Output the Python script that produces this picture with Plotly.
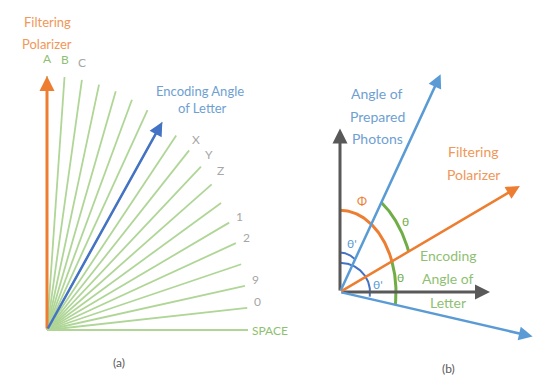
import numpy as np
import plotly.graph_objects as go

# ---------------- data ----------------
# (a) one line per encoding step, angle measured from the polarizer axis (degrees)
fan_angles = [0, 5, 10, 15, 20, 25, 30, 35, 40, 45, 50, 55, 60, 65, 70, 75, 80, 85, 90]
symbol_labels = ["A", "B", "C", "X", "Y", "Z", "1", "2", "9", "0", "SPACE"]
symbol_angles = [0, 5, 10, 40, 45, 50, 65, 70, 80, 85, 90]
letter_encoding_angle = 35

# (b) directions measured from the horizontal axis (degrees)
photon_angle = 56
polarizer_angle = 22
letter_angle = -9

# ---------------- styles ----------------
ORANGE = "#ed7d31"
ORANGE_TXT = "#f0975a"
BLUE = "#5b9bd5"
BLUE_DARK = "#4472c4"
BLUE_TXT = "#6f9fd2"
GREEN = "#b0d697"
GREEN_DARK = "#70ad47"
GREEN_TXT = "#8fbf72"
GRAY = "#595959"
LABEL_GRAY = "#a6a6a6"
FONT = "Lato"

W, H = 536, 378
SPLIT = 300  # pixel column where panel (b) begins

fig = go.Figure()
annotations = []


def polar_a(deg, r=1.0):
    t = np.radians(deg)
    return r * np.sin(t), r * np.cos(t)


def polar_b(deg, r=1.0):
    t = np.radians(deg)
    return r * np.cos(t), r * np.sin(t)


def arrow(x, y, ax, ay, color, width, xr, yr, size=1.0):
    annotations.append(dict(
        x=x, y=y, ax=ax, ay=ay, xref=xr, yref=yr, axref=xr, ayref=yr,
        text="", showarrow=True, arrowhead=2, arrowsize=size,
        arrowwidth=width, arrowcolor=color, standoff=0, startstandoff=0))


def label(x, y, text, color, xr, yr, size=13, xanchor="center",
          yanchor="middle", xshift=0, yshift=0):
    annotations.append(dict(
        x=x, y=y, xref=xr, yref=yr, text=text, showarrow=False,
        font=dict(family=FONT, size=size, color=color),
        xanchor=xanchor, yanchor=yanchor, xshift=xshift, yshift=yshift))


# ---------------- panel (a) ----------------
for ang in fan_angles:
    ex, ey = polar_a(ang)
    fig.add_trace(go.Scatter(x=[0, ex], y=[0, ey], mode="lines",
                             line=dict(color=GREEN, width=1.8),
                             hoverinfo="skip", xaxis="x", yaxis="y"))

# filtering polarizer (vertical) and encoding angle of the letter
tx, ty = polar_a(0)
arrow(tx, ty, 0, 0, ORANGE, 3, "x", "y", size=1.0)
bx, by = polar_a(letter_encoding_angle)
arrow(bx, by, 0, 0, BLUE_DARK, 2.5, "x", "y", size=1.1)

for sym, ang in zip(symbol_labels, symbol_angles):
    ex, ey = polar_a(ang)
    col = GREEN_TXT if sym in ("A", "B", "SPACE") else LABEL_GRAY
    if ang <= 10:
        label(ex, ey, sym, col, "x", "y", size=12, yanchor="bottom", yshift=8)
    elif ang < 60:
        label(ex, ey, sym, col, "x", "y", size=12, xanchor="left",
              xshift=14, yshift=-4)
    elif ang < 90:
        label(ex, ey, sym, col, "x", "y", size=12, xanchor="left",
              xshift=5, yshift=6)
    else:
        label(ex, ey, sym, col, "x", "y", size=12, xanchor="left", xshift=2)

label(0, polar_a(0)[1], "Filtering", ORANGE_TXT, "x", "y", size=13,
      xanchor="center", yshift=54)
label(0, polar_a(0)[1], "Polarizer", ORANGE_TXT, "x", "y", size=13,
      xanchor="center", yshift=32)
label(bx, by, "Encoding Angle", BLUE_TXT, "x", "y", size=13,
      xanchor="center", xshift=38, yshift=31)
label(bx, by, "of Letter", BLUE_TXT, "x", "y", size=13,
      xanchor="center", xshift=40, yshift=14)
label(0.36, 0, "(a)", GRAY, "x", "y", size=12, yshift=-32)

# ---------------- panel (b) ----------------
# reference axes
arrow(1.5, 0, 0, 0, GRAY, 3, "x2", "y2", size=1.0)
arrow(0, 1.12, 0, 0, GRAY, 3, "x2", "y2", size=1.0)

px_, py_ = polar_b(photon_angle, 1.80)
arrow(px_, py_, 0, 0, BLUE, 2.5, "x2", "y2", size=1.1)
ox_, oy_ = polar_b(polarizer_angle, 1.94)
arrow(ox_, oy_, 0, 0, ORANGE, 2.5, "x2", "y2", size=1.1)
lx_, ly_ = polar_b(letter_angle, 1.95)
arrow(lx_, ly_, 0, 0, BLUE, 2.5, "x2", "y2", size=1.1)


def arc(a0, a1, rx, ry, color, width):
    t = np.radians(np.linspace(a0, a1, 80))
    fig.add_trace(go.Scatter(x=rx * np.cos(t), y=ry * np.sin(t), mode="lines",
                             line=dict(color=color, width=width),
                             hoverinfo="skip", xaxis="x2", yaxis="y2"))


arc(90, polarizer_angle, 0.56, 0.56, ORANGE, 3)                # phi
arc(polarizer_angle, letter_angle, 0.56, 0.56, GREEN_DARK, 3)  # theta (lower)
arc(photon_angle, polarizer_angle, 0.74, 0.74, GREEN_DARK, 3)  # theta (upper)
arc(90, photon_angle, 0.27, 0.27, BLUE_DARK, 2)                # theta' (upper)
arc(90, letter_angle, 0.30, 0.20, BLUE_DARK, 2)                # theta' (lower)

# text for panel (b)
for i, t in enumerate(["Angle of", "Prepared", "Photons"]):
    label(0.37, 1.36 - i * 0.155, t, BLUE_TXT, "x2", "y2", size=14)
for i, t in enumerate(["Filtering", "Polarizer"]):
    label(1.33, 0.96 - i * 0.155, t, ORANGE_TXT, "x2", "y2", size=14)
for i, t in enumerate(["Encoding", "Angle of", "Letter"]):
    label(1.08, 0.25 - i * 0.16, t, GREEN_TXT, "x2", "y2", size=14)

label(0.22, 0.63, "Φ", ORANGE, "x2", "y2", size=12)
label(0.65, 0.48, "θ", GREEN_DARK, "x2", "y2", size=12)
label(0.12, 0.33, "θ'", BLUE, "x2", "y2", size=12)
label(0.60, 0.10, "θ", GREEN_DARK, "x2", "y2", size=12)
label(0.38, 0.05, "θ'", BLUE, "x2", "y2", size=12)
label(1.08, 0, "(b)", GRAY, "x2", "y2", size=12, yshift=-76)

# ---------------- layout ----------------
ax_a_x = 201.0   # px per unit, panel (a)
ax_a_y = 254.0
ax_b_x = 100.0   # px per unit, panel (b)
ax_b_y = 146.0
orig_a = (47, 330)
orig_b = (340, 292)

hidden = dict(visible=False, showgrid=False, zeroline=False, fixedrange=True)
fig.update_layout(
    width=W, height=H,
    margin=dict(l=0, r=0, t=0, b=0),
    paper_bgcolor="white", plot_bgcolor="white",
    showlegend=False,
    xaxis=dict(domain=[0, SPLIT / W],
               range=[-orig_a[0] / ax_a_x, (SPLIT - orig_a[0]) / ax_a_x], **hidden),
    yaxis=dict(domain=[0, 1],
               range=[-(H - orig_a[1]) / ax_a_y, orig_a[1] / ax_a_y], **hidden),
    xaxis2=dict(domain=[SPLIT / W, 1],
                range=[-(orig_b[0] - SPLIT) / ax_b_x, (W - orig_b[0]) / ax_b_x], **hidden),
    yaxis2=dict(domain=[0, 1], anchor="x2",
                range=[-(H - orig_b[1]) / ax_b_y, orig_b[1] / ax_b_y], **hidden),
    annotations=annotations,
)

fig.write_html("out.html")
